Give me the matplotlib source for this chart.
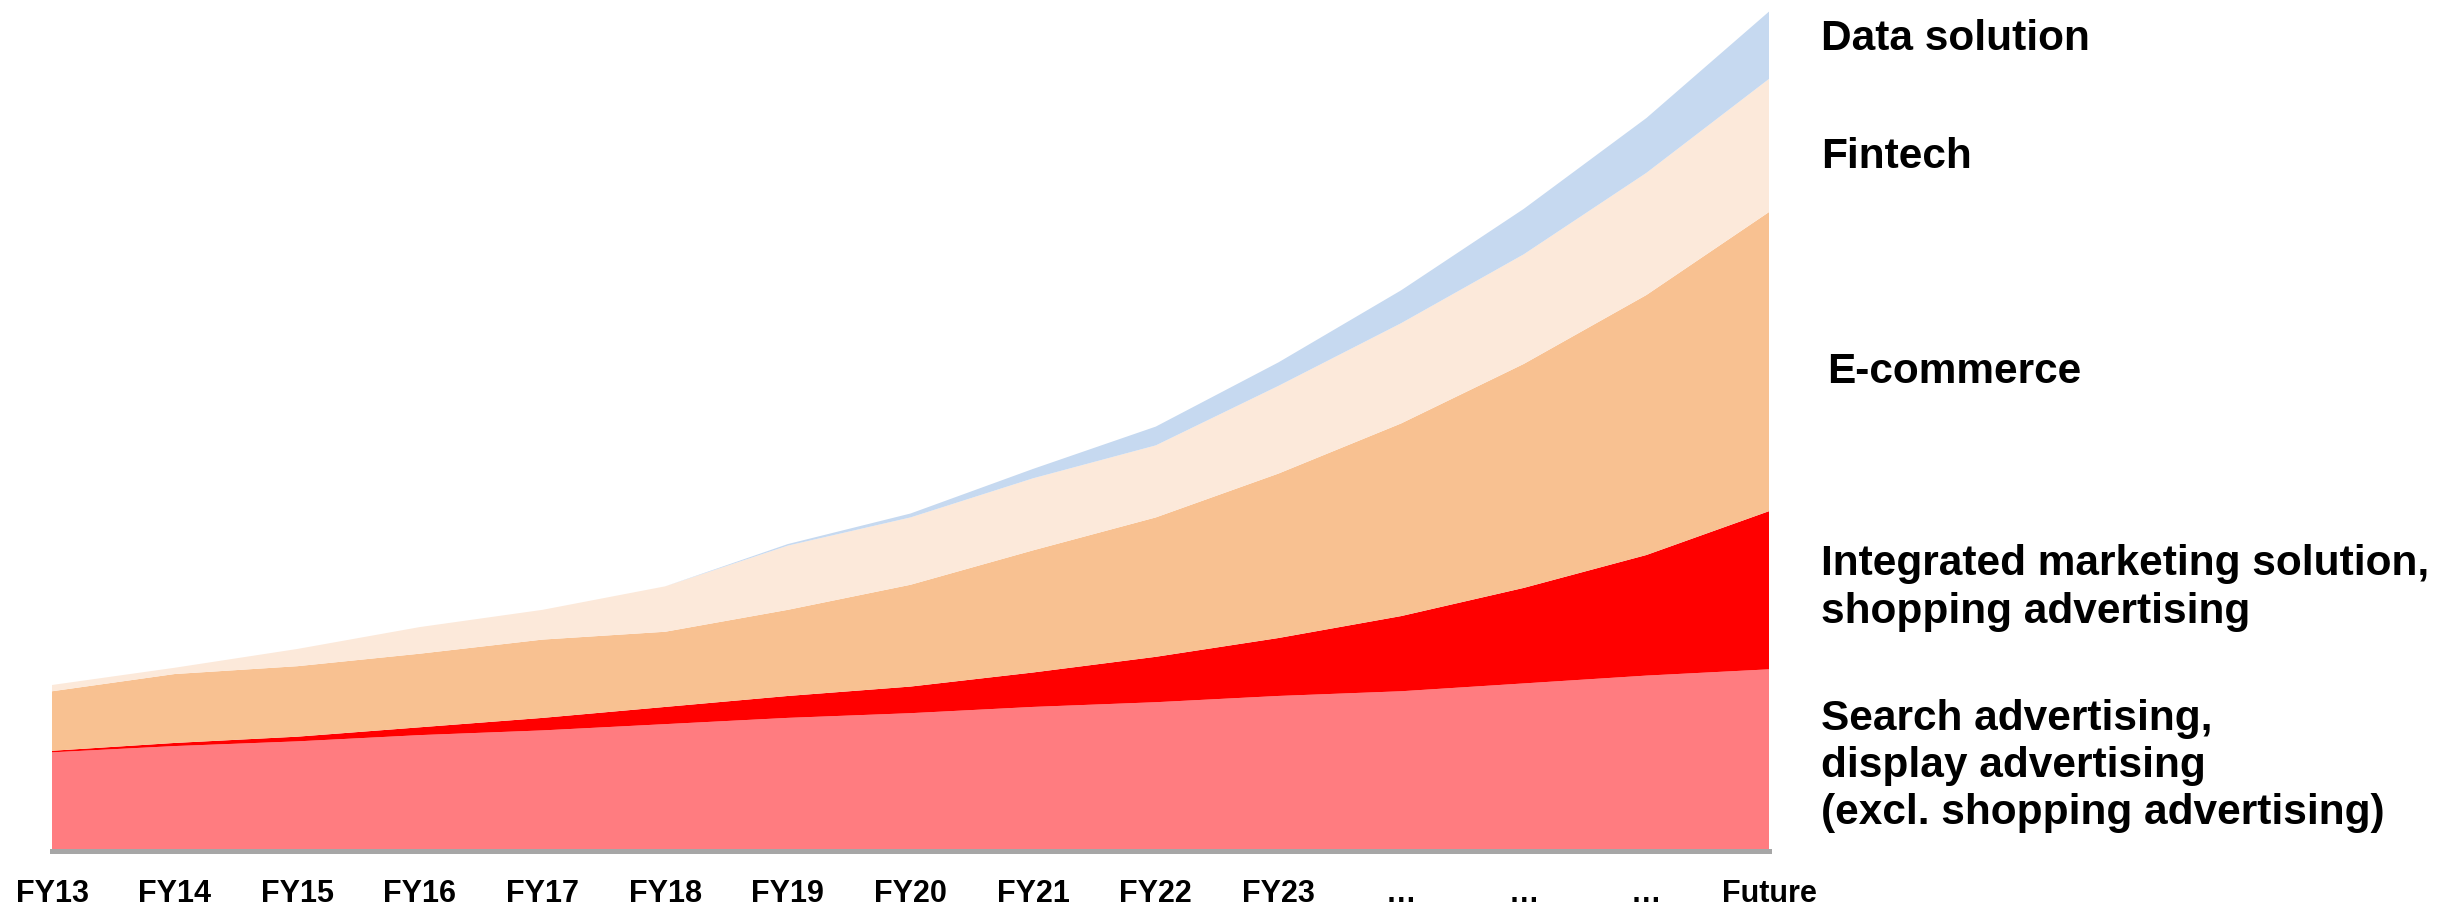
import matplotlib
matplotlib.use('Agg')
import matplotlib.pyplot as plt
import numpy as np

plt.rcParams['font.family'] = ['Liberation Sans', 'DejaVu Sans']

years = ["FY13", "FY14", "FY15", "FY16", "FY17", "FY18", "FY19", "FY20",
         "FY21", "FY22", "FY23", "…", "…", "…", "Future"]

search = [63, 67, 70, 74, 77, 81, 85, 88, 92, 95, 99, 102, 107, 112, 116]
integrated = [1, 2, 3, 5, 8, 11, 14, 17, 22, 29, 37, 48, 61, 77, 101]
ecommerce = [38, 44, 45, 47, 50, 48, 55, 65, 78, 89, 105, 123, 143, 166, 191]
fintech = [4, 4, 11, 17, 19, 29, 41, 43, 46, 46, 56, 64, 70, 78, 85]
data_sol = [0, 0, 0, 0, 0, 0, 1, 2.5, 6, 12, 15, 21, 29, 35, 43]

colors = ["#FF7C80", "#FF0000", "#F8C191", "#FCE9DA", "#C6D9F0"]
labels = ["Search advertising,\ndisplay advertising\n(excl. shopping advertising)",
          "Integrated marketing solution,\nshopping advertising",
          "E-commerce", "Fintech", "Data solution"]

fig = plt.figure(figsize=(24.56, 9.06), dpi=100)
ax = fig.add_axes([52 / 2456, 55 / 906, (1769 - 52) / 2456, 851 / 906])

x = np.arange(len(years))
ax.stackplot(x, search, integrated, ecommerce, fintech, data_sol,
             colors=colors, linewidth=0)

ax.set_xlim(0, len(years) - 1)
ax.set_ylim(0, 543.4)

for s in ["top", "right", "left"]:
    ax.spines[s].set_visible(False)
ax.spines["bottom"].set_color("#A6A6A6")
ax.spines["bottom"].set_linewidth(3.6)
ax.set_yticks([])
ax.set_xticks(x)
ax.set_xticklabels(years, fontsize=22, fontweight='bold')
ax.tick_params(axis='x', length=0, pad=20)

# series names on the right
label_pos = [(0.7415, 0.1545), (0.7415, 0.351), (0.744, 0.5895),
             (0.7415, 0.8265), (0.7415, 0.9575)]
for lab, (lx, ly) in zip(labels, label_pos):
    fig.text(lx, ly, lab, fontsize=30.5, fontweight='bold', ha='left',
             va='center', linespacing=1.24)

fig.savefig("out.png", dpi=100)
